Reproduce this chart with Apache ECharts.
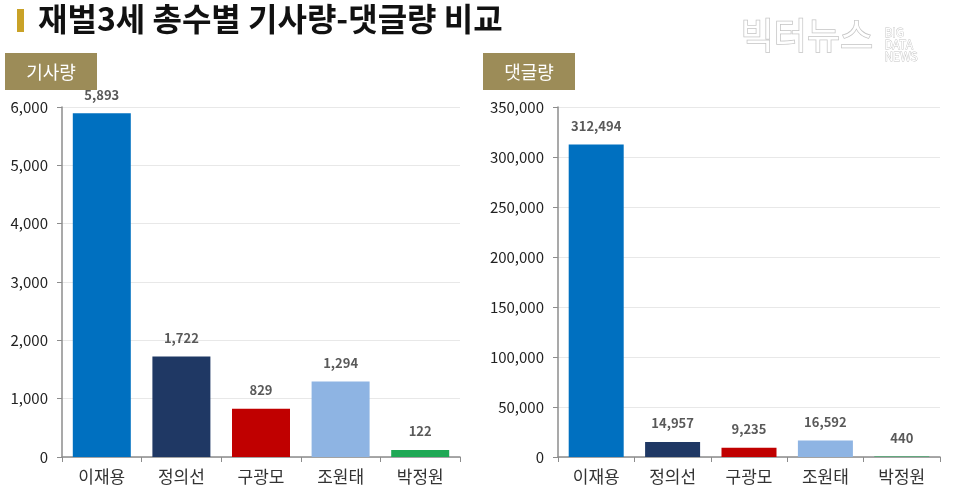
<!DOCTYPE html>
<html>
<head>
<meta charset="utf-8">
<script src="https://cdn.jsdelivr.net/npm/echarts@6/dist/echarts.min.js"></script>
<style>
  html, body { margin: 0; padding: 0; background: #fff; }
  #chart { width: 960px; height: 496px; }
</style>
</head>
<body>
<div id="chart"></div>
<script>
// data
var names = ["이재용", "정의선", "구광모", "조원태", "박정원"];
var articleCounts = [5893, 1722, 829, 1294, 122];
var commentCounts = [312494, 14957, 9235, 16592, 440];
var barColors = ["#0070C0", "#1F3864", "#C00000", "#8EB4E3", "#1FA855"];

var FONT = "'Noto Sans CJK KR', 'Noto Sans', sans-serif";

function fmt(v){
	return String(v).replace(/\B(?=(\d{3})+(?!\d))/g, ",");
}

function makeData(arr){
	var out = [];
	for (var i = 0; i < arr.length; i++) {
		out.push({ value: arr[i], itemStyle: { color: barColors[i] } });
	}
	return out;
}

function xAxis(idx){
	return {
		type: "category", gridIndex: idx, data: names,
		axisLine: { lineStyle: { color: "#8c8c8c", width: 1.5 } },
		axisTick: { show: true, length: 5, alignWithLabel: false, lineStyle: { color: "#8c8c8c" } },
		axisLabel: { color: "#333", fontSize: 17, fontFamily: FONT, margin: 11 }
	};
}

function yAxis(idx, max, interval){
	return {
		type: "value", gridIndex: idx, min: 0, max: max, interval: interval,
		axisLine: { show: true, lineStyle: { color: "#8c8c8c", width: 1.5 } },
		axisTick: { show: true, length: 5, lineStyle: { color: "#8c8c8c" } },
		splitLine: { lineStyle: { color: "#e8e8e8" } },
		axisLabel: { color: "#222", fontSize: 15, fontFamily: FONT, margin: 14,
			formatter: function(v){ return fmt(v); } }
	};
}

function barSeries(idx, arr, width){
	return {
		type: "bar", xAxisIndex: idx, yAxisIndex: idx,
		data: makeData(arr), barWidth: width,
		label: { show: true, position: "top", distance: 12, color: "#595959",
			fontSize: 13, fontWeight: "bold", fontFamily: FONT,
			formatter: function(p){ return fmt(p.value); } }
	};
}

function badge(x, text){
	return {
		type: "group", left: x, top: 53,
		children: [
			{ type: "rect", shape: { x: 0, y: 0, width: 92, height: 37 }, style: { fill: "#9C8C58" } },
			{ type: "text", x: 46, y: 19, style: { text: text, fill: "#fff", fontSize: 18,
				fontFamily: FONT, align: "center", verticalAlign: "middle" } }
		]
	};
}

var chart = echarts.init(document.getElementById("chart"));
chart.setOption({
	animation: false,
	backgroundColor: "#fff",
	grid: [
		{ left: 62, right: 500, top: 107, bottom: 39 },
		{ left: 558, right: 20, top: 107, bottom: 39 }
	],
	xAxis: [xAxis(0), xAxis(1)],
	yAxis: [yAxis(0, 6000, 1000), yAxis(1, 350000, 50000)],
	series: [barSeries(0, articleCounts, 58), barSeries(1, commentCounts, 55)],
	graphic: [
		{ type: "rect", shape: { x: 17, y: 9, width: 7, height: 23 }, style: { fill: "#C9A227" } },
		{ type: "text", left: 38, top: 3, style: { text: "재벌3세 총수별 기사량-댓글량 비교",
			fill: "#111", fontSize: 32, fontWeight: "bold", fontFamily: FONT } },
		{ type: "text", left: 740, top: 17, style: { text: "빅터뉴스", fill: "#fff",
			stroke: "#c4c4c4", lineWidth: 1.5, fontSize: 36, fontFamily: FONT } },
		{ type: "text", left: 884, top: 26, style: { text: "BIG\nDATA\nNEWS", fill: "#fff",
			stroke: "#c4c4c4", lineWidth: 0.8, fontSize: 12, lineHeight: 12, fontFamily: FONT } },
		badge(5, "기사량"),
		badge(483, "댓글량")
	]
});
</script>
</body>
</html>
